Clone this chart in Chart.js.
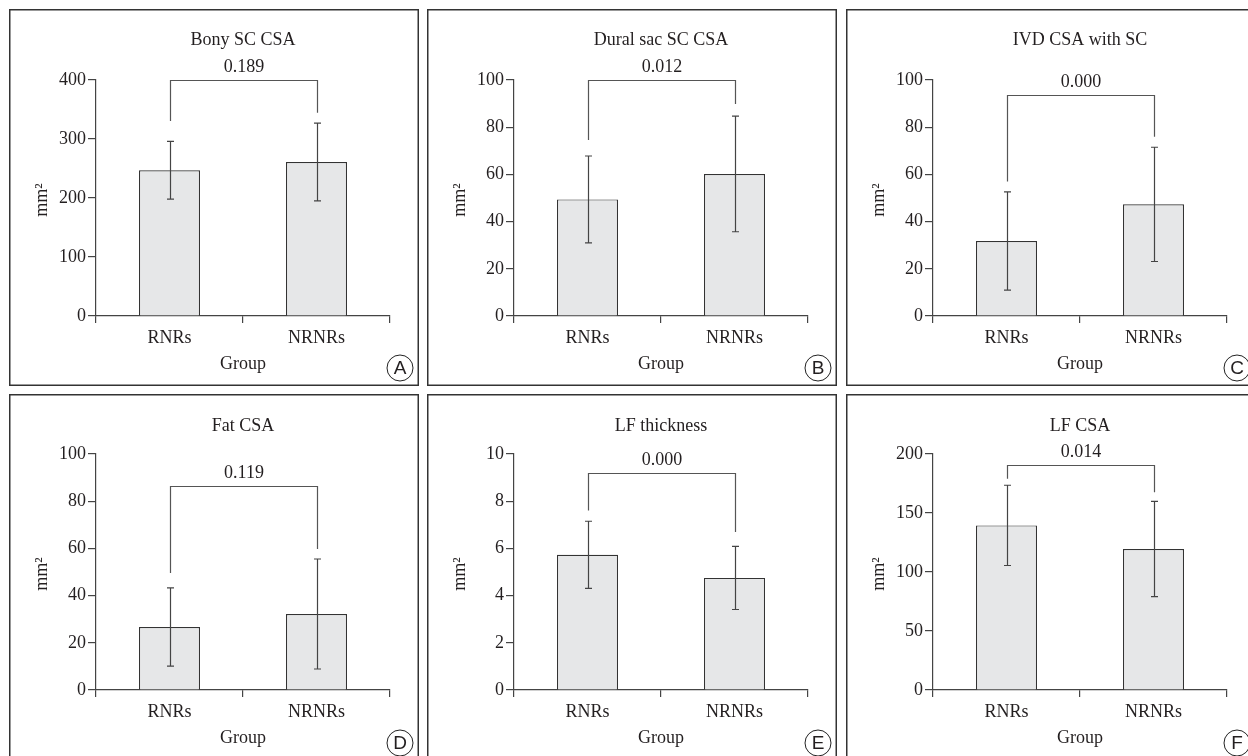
<!DOCTYPE html>
<html><head><meta charset="utf-8">
<script src="https://cdn.jsdelivr.net/npm/chart.js@4.4.0/dist/chart.umd.min.js"></script>
<style>
html,body{margin:0;padding:0;background:#fff;width:1248px;height:756px;overflow:hidden;position:relative}
canvas{position:absolute}
</style></head><body>
<script>
// ---- data ----
const categories = ['RNRs', 'NRNRs'];
const panelLetters = ['A', 'B', 'C', 'D', 'E', 'F'];
const titles = ['Bony SC CSA', 'Dural sac SC CSA', 'IVD CSA with SC', 'Fat CSA', 'LF thickness', 'LF CSA'];
const meanRNRs = [247, 49.4, 31.8, 26.7, 5.73, 139.5];
const meanNRNRs = [261, 60.2, 47.3, 32.2, 4.75, 119.5];
const sdRNRs = [49, 18.4, 20.8, 16.6, 1.42, 34];
const sdNRNRs = [66, 24.5, 24.2, 23.3, 1.34, 40.3];
const yMax = [400, 100, 100, 100, 10, 200];
const yStep = [100, 20, 20, 20, 2, 50];
const pValues = ['0.189', '0.012', '0.000', '0.119', '0.000', '0.014'];
const bracketTop = [400, 100, 93.6, 86.4, 9.2, 190.7];
const bracketLeftEnd = [330.5, 74.6, 57, 49.6, 7.61, 179];
const bracketRightEnd = [344.6, 89.8, 76, 59.7, 6.7, 167.5];
const yAxisLabel = 'mm²';
const xAxisLabel = 'Group';

// ---- layout ----
const boxLeft = [9, 427, 846];
const boxTop = [9, 394];
const boxW = 410, boxH = 377;
const plotLeft = 87, plotRight = 381;
const plotTop = [71, 60];
const plotBottom = [307, 296];
const SERIF = '"Liberation Serif", "DejaVu Serif", serif';
const TXT = '#231f20';
const LINE = '#444';

const annot = {
  id: 'annot',
  afterDatasetsDraw(chart, args, opts) {
    const i = opts.idx, row = opts.row;
    const ctx = chart.ctx, xs = chart.scales.x, ys = chart.scales.y;
    const means = [meanRNRs[i], meanNRNRs[i]];
    const sds = [sdRNRs[i], sdNRNRs[i]];
    ctx.save();
    ctx.strokeStyle = LINE; ctx.lineWidth = 1.2;
    for (let k = 0; k < 2; k++) {
      const cx = Math.round(xs.getPixelForValue(k)) + 0.5;
      const t = ys.getPixelForValue(means[k] + sds[k]);
      const b = ys.getPixelForValue(means[k] - sds[k]);
      ctx.beginPath();
      ctx.moveTo(cx, t); ctx.lineTo(cx, b);
      ctx.moveTo(cx - 3.5, t); ctx.lineTo(cx + 3.5, t);
      ctx.moveTo(cx - 3.5, b); ctx.lineTo(cx + 3.5, b);
      ctx.stroke();
    }
    // bracket
    const x0 = Math.round(xs.getPixelForValue(0)) + 0.5;
    const x1 = Math.round(xs.getPixelForValue(1)) + 0.5;
    const yb = Math.round(ys.getPixelForValue(bracketTop[i])) + 0.5;
    ctx.strokeStyle = '#555';
    ctx.beginPath();
    ctx.moveTo(x0, ys.getPixelForValue(bracketLeftEnd[i]));
    ctx.lineTo(x0, yb); ctx.lineTo(x1, yb);
    ctx.lineTo(x1, ys.getPixelForValue(bracketRightEnd[i]));
    ctx.stroke();
    ctx.fillStyle = TXT;
    ctx.font = '18px ' + SERIF;
    ctx.textAlign = 'center'; ctx.textBaseline = 'middle';
    ctx.fillText(pValues[i], (x0 + x1) / 2, yb - 13);
    ctx.restore();
  },
  afterDraw(chart, args, opts) {
    const i = opts.idx, row = opts.row;
    const ctx = chart.ctx, ca = chart.chartArea;
    ctx.save();
    // border
    ctx.strokeStyle = '#333'; ctx.lineWidth = 1.5;
    ctx.strokeRect(0.75, 0.75, chart.width - 1.5, chart.height - 1.5);
    ctx.fillStyle = TXT;
    ctx.font = '18px ' + SERIF;
    ctx.textAlign = 'center'; ctx.textBaseline = 'middle';
    const cx = (ca.left + ca.right) / 2;
    ctx.fillText(titles[i], cx, row === 0 ? 31 : 32);
    ctx.fillText(xAxisLabel, cx, ca.bottom + 48);
    // y label
    ctx.save();
    ctx.translate(33, (ca.top + ca.bottom) / 2 + 2);
    ctx.rotate(-Math.PI / 2);
    ctx.fillText(yAxisLabel, 0, 0);
    ctx.restore();
    // circled letter
    const lx = 391, ly = row === 0 ? 359 : 349;
    ctx.strokeStyle = '#222'; ctx.lineWidth = 1;
    ctx.beginPath(); ctx.arc(lx, ly, 13, 0, Math.PI * 2); ctx.stroke();
    ctx.font = '19px "Liberation Sans", Arial, sans-serif';
    ctx.fillText(panelLetters[i], lx, ly + 1);
    ctx.restore();
  }
};

for (let i = 0; i < 6; i++) {
  const row = Math.floor(i / 3), col = i % 3;
  const cv = document.createElement('canvas');
  cv.width = boxW; cv.height = boxH;
  cv.style.left = boxLeft[col] + 'px';
  cv.style.top = boxTop[row] + 'px';
  cv.style.width = boxW + 'px'; cv.style.height = boxH + 'px';
  document.body.appendChild(cv);
  const xh = boxH - plotBottom[row];
  new Chart(cv.getContext('2d'), {
    type: 'bar',
    data: {
      labels: categories,
      datasets: [{
        data: [meanRNRs[i], meanNRNRs[i]],
        backgroundColor: '#e6e7e8',
        borderColor: '#333',
        borderWidth: 1.2,
        borderSkipped: 'start',
        barPercentage: 0.415,
        categoryPercentage: 1
      }]
    },
    options: {
      responsive: false,
      animation: false,
      devicePixelRatio: 1,
      layout: { padding: { left: 0, right: boxW - plotRight, top: plotTop[row], bottom: 0 } },
      plugins: { legend: { display: false }, tooltip: { enabled: false }, title: { display: false }, annot: { idx: i, row: row } },
      scales: {
        x: {
          type: 'category', offset: true,
          grid: { offset: true, drawOnChartArea: false, drawTicks: true, tickLength: 7, color: LINE, lineWidth: 1.2 },
          border: { display: true, color: LINE, width: 1.2 },
          ticks: { font: { family: SERIF, size: 18 }, color: TXT, padding: 4 },
          afterFit(s) { s.height = xh; }
        },
        y: {
          min: 0, max: yMax[i],
          grid: { drawOnChartArea: false, drawTicks: true, tickLength: 8, color: LINE, lineWidth: 1.2 },
          border: { display: true, color: LINE, width: 1.2 },
          ticks: { stepSize: yStep[i], font: { family: SERIF, size: 18 }, color: TXT, padding: 2 },
          afterFit(s) { s.width = plotLeft; }
        }
      }
    },
    plugins: [annot]
  });
}
</script>
</body></html>
